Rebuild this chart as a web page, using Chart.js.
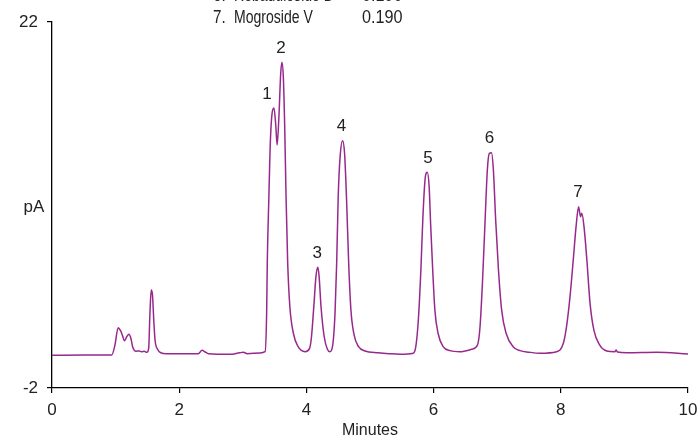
<!DOCTYPE html>
<html>
<head>
<meta charset="utf-8">
<style>
  html, body { margin: 0; padding: 0; background: #fff; }
  #wrap { width: 700px; height: 440px; }
</style>
<script src="https://cdn.jsdelivr.net/npm/chart.js@4.4.1/dist/chart.umd.min.js"></script>
</head>
<body>
<div id="wrap"><canvas id="chromChart" width="700" height="440"></canvas></div>
<script>
// retention time (minutes) and detector signal (pA)
const times = [
  0, 0.5, 0.94, 0.99, 1.04, 1.08, 1.105, 1.14, 1.175, 1.21, 1.24, 1.27, 1.32, 1.37, 1.41, 1.45, 1.49,
  1.52, 1.54, 1.56, 1.58, 1.60, 1.62, 1.66, 1.71, 1.80, 2.06, 2.30, 2.36, 2.41, 2.46, 2.80, 2.95,
  3.01, 3.07, 3.27, 3.35, 3.375, 3.385, 3.41, 3.43, 3.46, 3.49, 3.52, 3.54, 3.57, 3.596, 3.616,
  3.637, 3.66, 3.68, 3.706, 3.74, 3.795, 3.87, 3.98, 4.05, 4.08, 4.12, 4.15, 4.18, 4.20, 4.23,
  4.28, 4.33, 4.37, 4.41, 4.45, 4.476, 4.50, 4.53, 4.57, 4.60, 4.63, 4.665, 4.70, 4.75, 4.82,
  4.92, 5.13, 5.30, 5.47, 5.68, 5.72, 5.76, 5.80, 5.83, 5.865, 5.90, 5.93, 5.955, 5.986, 6.02,
  6.07, 6.15, 6.26, 6.415, 6.60, 6.69, 6.73, 6.77, 6.81, 6.845, 6.876, 6.91, 6.94, 6.976, 7.02,
  7.07, 7.14, 7.25, 7.36, 7.50, 7.67, 7.935, 8.04, 8.09, 8.145, 8.20, 8.24, 8.28, 8.31, 8.33,
  8.365, 8.41, 8.46, 8.52, 8.61, 8.72, 8.85, 8.87, 8.89, 9.04, 9.51, 10.0
]
const signal = [
  0.15, 0.16, 0.17, 0.82, 1.95, 1.74, 1.48, 1.10, 1.36, 1.52, 1.26, 0.67, 0.41, 0.43, 0.38, 0.41, 0.34,
  0.60, 2.90, 4.43, 4.10, 2.46, 1.15, 0.54, 0.31, 0.25, 0.25, 0.25, 0.47, 0.36, 0.25, 0.21, 0.31,
  0.34, 0.25, 0.30, 0.38, 2.92, 6.20, 10.52, 13.80, 16.00, 16.36, 15.13, 13.93, 16.00, 18.64, 19.36,
  18.41, 14.92, 10.54, 6.18, 3.33, 1.59, 0.71, 0.38, 0.60, 1.36, 3.55, 5.30, 5.91, 5.30, 3.33,
  1.36, 0.54, 0.38, 0.71, 2.90, 6.18, 10.54, 13.17, 14.22, 13.39, 10.54, 6.18, 3.11, 1.48, 0.71,
  0.43, 0.31, 0.25, 0.21, 0.28, 0.71, 2.46, 5.74, 9.02, 11.64, 12.14, 11.20, 8.58, 5.74, 3.11,
  1.59, 0.71, 0.45, 0.38, 0.54, 0.82, 2.02, 5.08, 9.02, 12.30, 13.39, 13.43, 12.30, 9.02, 5.74,
  3.11, 1.59, 0.71, 0.45, 0.35, 0.28, 0.38, 0.93, 2.02, 3.99, 6.61, 8.58, 9.89, 9.23, 9.46,
  8.58, 6.39, 3.55, 1.80, 0.82, 0.43, 0.38, 0.49, 0.36, 0.31, 0.34, 0.23
]

// peak numbers and where they sit
const peakNames = ['1', '2', '3', '4', '5', '6', '7']
const peakTimes = [3.38, 3.6, 4.17, 4.55, 5.91, 6.88, 8.27]
const peakHeights = [16.36, 19.36, 5.91, 14.22, 12.14, 13.43, 9.89]

// legend rows (only the last two show)
const compoundNos = ['6.', '7.']
const compounds = ['Rebaudioside D', 'Mogroside V']
const amounts = ['0.190', '0.190']

const yTicks = [-2, 22]
const xTicks = [0, 2, 4, 6, 8, 10]

const FONT = "'Liberation Sans Narrow', 'Liberation Sans', Arial, sans-serif"
const TRACE = '#97298d'

// the original type is a condensed face; fake it by squeezing
function squeezedText (ctx, text, x, y, k) {
  ctx.save()
  ctx.scale(k, 1)
  ctx.fillText(text, x / k, y)
  ctx.restore()
}

const labelsPlugin = {
  id: 'chromLabels',
  afterDraw (chart) {
    const { ctx, scales } = chart
    ctx.save()
    ctx.fillStyle = '#222'
    ctx.font = '17px ' + FONT
    ctx.textAlign = 'center'
    ctx.textBaseline = 'middle'
    peakNames.forEach((n, i) => {
      const px = scales.x.getPixelForValue(peakTimes[i])
      const py = scales.y.getPixelForValue(peakHeights[i])
      ctx.fillText(n, px, py - 14)
    })

    // y title, upright
    ctx.fillText('pA', chart.chartArea.left - 18, (chart.chartArea.top + chart.chartArea.bottom) / 2 + 2)

    // legend remnants at the very top
    ctx.font = '18px ' + FONT
    ctx.textAlign = 'left'
    compounds.forEach((c, i) => {
      const y = 18 - (compounds.length - 1 - i) * 22
      squeezedText(ctx, compoundNos[i], 213, y, 0.85)
      squeezedText(ctx, c, 234, y, 0.78)
      squeezedText(ctx, amounts[i], 362, y, 0.9)
    })
    ctx.restore()
  }
}

const ctx = document.getElementById('chromChart').getContext('2d')
new Chart(ctx, {
  type: 'line',
  data: {
    datasets: [
      {
        data: times.map((t, i) => ({ x: t, y: signal[i] })),
        borderColor: TRACE,
        borderWidth: 1.5,
        pointRadius: 0,
        fill: false,
        cubicInterpolationMode: 'monotone'
      }
    ]
  },
  options: {
    responsive: false,
    animation: false,
    layout: { padding: { top: 22, right: 12, left: 0, bottom: 0 } },
    plugins: {
      legend: { display: false },
      tooltip: { enabled: false }
    },
    scales: {
      x: {
        type: 'linear',
        min: 0,
        max: 10,
        afterBuildTicks: (s) => { s.ticks = xTicks.map(v => ({ value: v })) },
        afterFit: (s) => {
          s.height = 52
          s.paddingLeft = 0
          s.paddingRight = 0
        },
        grid: { drawOnChartArea: false, tickLength: 5, color: '#000', lineWidth: 1.2 },
        border: { color: '#000', width: 1.3 },
        ticks: { color: '#222', font: { family: FONT, size: 17 }, padding: 7, maxRotation: 0 },
        title: { display: true, text: 'Minutes', color: '#222', font: { family: FONT, size: 16 }, padding: { top: -5, bottom: 0 } }
      },
      y: {
        min: -2,
        max: 22,
        afterBuildTicks: (s) => { s.ticks = yTicks.map(v => ({ value: v })) },
        afterFit: (s) => {
          s.width = 52
          s.paddingTop = 0
          s.paddingBottom = 0
        },
        grid: { drawOnChartArea: false, tickLength: 5, color: '#000', lineWidth: 1.2 },
        border: { color: '#000', width: 1.3 },
        ticks: { color: '#222', font: { family: FONT, size: 17 }, padding: 9 }
      }
    }
  },
  plugins: [labelsPlugin]
})
</script>
</body>
</html>
